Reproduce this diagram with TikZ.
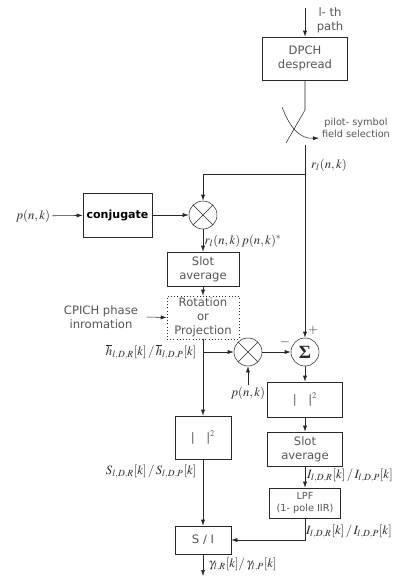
\documentclass[tikz,border=0pt]{standalone}
\usepackage{mathptmx}
\usepackage[no-math]{fontspec}
\setsansfont{DejaVu Sans}
\newfontfamily\sigmafont{Liberation Serif}
\usetikzlibrary{arrows.meta}
\definecolor{dpline}{RGB}{40,40,40}
\definecolor{dptext}{RGB}{85,85,85}
\newcommand\boxfont{\sffamily\fontsize{8.7}{10.5}\selectfont}
\newcommand\smallboxfont{\sffamily\fontsize{7.3}{9}\selectfont}
\tikzset{
  blk/.style={draw=dpline,rectangle,inner sep=1pt,align=center,font=\boxfont,text=dptext},
  mixer/.style={draw=dpline,circle,minimum size=21pt,inner sep=0pt,
    path picture={\draw[dpline] (path picture bounding box.north west) -- (path picture bounding box.south east)
      (path picture bounding box.south west) -- (path picture bounding box.north east);}},
  sumcirc/.style={draw=dpline,circle,minimum size=21pt,inner sep=0pt,font=\sigmafont\bfseries\fontsize{14}{14}\selectfont},
  lbl/.style={align=center,font=\boxfont,text=dptext},
  mlbl/.style={inner sep=1pt,font=\fontsize{9.5}{11}\selectfont}
}

\begin{document}
\begin{tikzpicture}[x=0.75pt,y=-0.75pt,>={Latex[length=4.5pt,width=3pt]},dpline]
  \useasboundingbox (0,0) rectangle (400,576);
  % despreading and pilot selection
  \node[blk,minimum width=63.75pt,minimum height=32.25pt] (despread) at (305,58.5) {DPCH\\despread};
  \coordinate (inpath) at (305,8);
  \draw[->] (inpath) -- (despread);
  \node[lbl] (lth) at (330,20) {l- th\\path};
  \coordinate (swtop) at (305,110);
  \coordinate (swend) at (286,143);
  \coordinate (swout) at (305,145);
  \draw (despread.south) -- (swtop) -- (swend);
  \coordinate (selA) at (282,107);
  \coordinate (selB) at (319,138);
  \draw[->] (selA) .. controls (290,128) and (300,139) .. (selB);
  \node[lbl,font=\smallboxfont] (pilot) at (356,128) {pilot- symbol\\field selection};
  \node[mlbl] (rl) at (329,165) {$r_l(n,k)$};
  \coordinate (tap) at (305,174);
  % channel estimate
  \node[mixer] (mult1) at (203,215) {};
  \node[blk,minimum width=51.75pt,minimum height=33pt,text=black,font=\sffamily\bfseries\fontsize{8.3}{10}\selectfont] (conj) at (117.5,215) {conjugate};
  \node[mlbl] (pin) at (33,216) {$p(n,k)$};
  \draw[->] (pin) -- (conj);
  \draw[->] (conj) -- (mult1);
  \draw[->] (tap) -| (mult1);
  \node[blk,minimum width=54pt,minimum height=25.5pt] (slotavgA) at (203,269) {Slot\\average};
  \draw[->] (mult1) -- (slotavgA);
  \node[mlbl] (rlp) at (243,241) {$r_l(n,k)\,p(n,k)^*$};
  \node[blk,dotted,minimum width=54pt,minimum height=32.25pt] (rotproj) at (203,317.5) {Rotation\\or\\Projection};
  \draw[->] (slotavgA) -- (rotproj);
  \node[lbl] (cpich) at (101,317) {CPICH phase\\inromation};
  \draw[->] ([xshift=3pt]cpich.east) -- (rotproj.west);
  % interference path
  \node[mixer] (mult2) at (248,352) {};
  \node[sumcirc] (sumnode) at (305,352) {Σ};
  \coordinate (hbr) at (203,352);
  \draw[->] (hbr) -- (mult2);
  \draw[->] (mult2) -- (sumnode);
  \draw[->] (swout) -- (sumnode);
  \node[mlbl,anchor=east] (hbar) at (198,352) {$\overline{h}_{l,D,R}[k]\,/\,\overline{h}_{l,D,P}[k]$};
  \node[mlbl] (minus) at (285,342) {$-$};
  \node[mlbl] (plus) at (313,330) {$+$};
  \node[mlbl] (pmix) at (248,393) {$p(n,k)$};
  \draw[->] (pmix) -- (mult2);
  \node[blk,minimum width=56.25pt,minimum height=26.25pt] (sqB) at (305,399.5) {|\hspace{1em}|$^2$};
  \node[blk,minimum width=56.25pt,minimum height=25.5pt] (slotavgB) at (305,449) {Slot\\average};
  \node[blk,minimum width=53.25pt,minimum height=22.5pt,font=\smallboxfont] (lpf) at (305,503) {LPF\\(1- pole IIR)};
  \draw[->] (sumnode) -- (sqB);
  \draw[->] (sqB) -- (slotavgB);
  \draw[->] (slotavgB) -- (lpf);
  \node[mlbl] (ilev) at (350,476) {$I_{l,D,R}[k]\,/\,I_{l,D,P}[k]$};
  \node[mlbl] (ifilt) at (349,532) {$I_{l,D,R}[k]\,/\,I_{l,D,P}[k]$};
  % signal power and ratio
  \node[blk,minimum width=42pt,minimum height=32.25pt] (sqA) at (203,437.5) {|\hspace{1em}|$^2$};
  \draw[->] (rotproj) -- (sqA);
  \node[mlbl,anchor=east] (slev) at (198,472) {$S_{l,D,R}[k]\,/\,S_{l,D,P}[k]$};
  \node[blk,minimum width=42pt,minimum height=21pt] (sinr) at (203,540) {S / I};
  \draw[->] (sqA) -- (sinr);
  \coordinate (lpfout) at (305,540);
  \draw[->] (lpf) -- (lpfout) -- (sinr);
  \coordinate (gout) at (203,576);
  \draw[->] (sinr) -- (gout);
  \node[mlbl,anchor=west] (gam) at (207,565) {$\gamma_{l,R}[k]/\,\gamma_{l,P}[k]$};
\end{tikzpicture}
\end{document}
